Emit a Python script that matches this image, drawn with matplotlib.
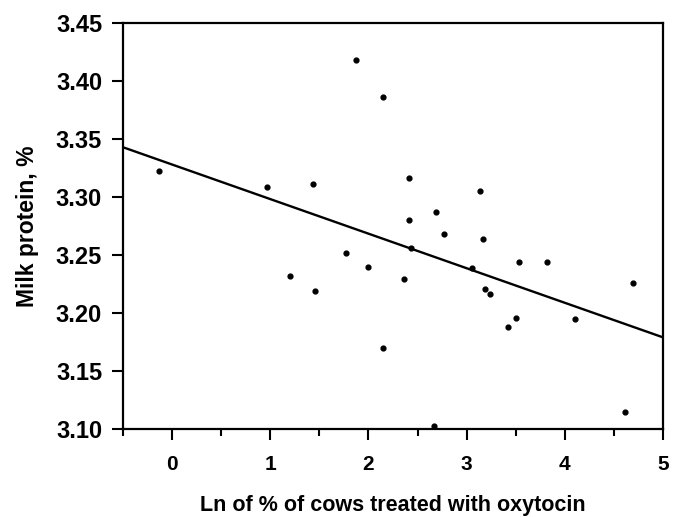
import matplotlib
matplotlib.use("Agg")
import matplotlib.pyplot as plt
import numpy as np
from matplotlib.ticker import MultipleLocator

# Data
ln_pct_oxytocin = [-0.13, 0.97, 1.44, 1.87, 2.15, 2.41, 3.14, 2.69, 2.41, 2.77,
                   3.17, 1.77, 2.43, 2.00, 3.05, 3.53, 3.82, 2.36, 4.69, 3.19,
                   3.24, 3.50, 4.10, 3.42, 1.20, 1.46, 2.15, 2.67, 4.61]
milk_protein = [3.322, 3.309, 3.311, 3.418, 3.386, 3.316, 3.305, 3.287, 3.280, 3.268,
                3.264, 3.252, 3.256, 3.240, 3.239, 3.244, 3.244, 3.229, 3.226, 3.221,
                3.216, 3.196, 3.195, 3.188, 3.232, 3.219, 3.170, 3.103, 3.115]

# regression line (intercept, slope)
fit_intercept = 3.328
fit_slope = -0.0298

x_ticks = [0, 1, 2, 3, 4, 5]
y_ticks = [3.10, 3.15, 3.20, 3.25, 3.30, 3.35, 3.40, 3.45]

plt.rcParams["font.family"] = ["Liberation Sans", "DejaVu Sans"]
plt.rcParams["font.weight"] = "bold"

fig = plt.figure(figsize=(6.74, 5.17), dpi=100)
ax = fig.add_axes([0.1825, 0.1702, 0.8012, 0.7853])

ax.scatter(ln_pct_oxytocin, milk_protein, s=12, color="black", zorder=3)

xs = np.array([-0.5, 5])
ax.plot(xs, fit_intercept + fit_slope * xs, color="black", lw=1.7)

ax.set_xlim(-0.5, 5)
ax.set_ylim(3.10, 3.45)
ax.set_xticks(x_ticks)
ax.set_xticklabels([str(v) for v in x_ticks], fontsize=15, fontweight="bold")
ax.xaxis.set_minor_locator(MultipleLocator(0.5))
ax.set_yticks(y_ticks)
ax.set_yticklabels([f"{v:.2f}" for v in y_ticks], fontsize=17, fontweight="bold")

for s in ax.spines.values():
    s.set_linewidth(1.6)
ax.tick_params(which="major", direction="out", length=8, width=1.5)
ax.tick_params(which="minor", direction="out", length=5, width=1.5)
ax.tick_params(axis="x", pad=11)
ax.tick_params(axis="y", pad=7)

ax.set_xlabel("Ln of % of cows treated with oxytocin", fontsize=15.5,
              fontweight="bold", labelpad=15)
ax.set_ylabel("Milk protein, %", fontsize=16.5, fontweight="bold", labelpad=12)

fig.savefig("out.png", dpi=100)
